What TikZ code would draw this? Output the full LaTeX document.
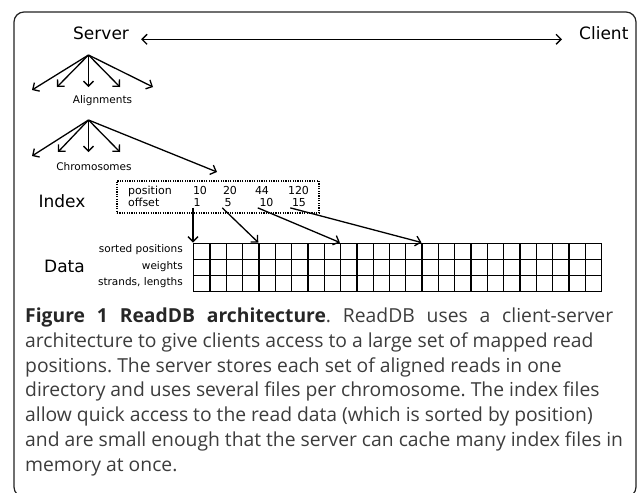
\documentclass[tikz,border=0pt]{standalone}
\usepackage{fontspec}
\setmainfont{Open Sans}
\newfontfamily\diafont{DejaVu Sans}
\usepackage{tikz}
\usetikzlibrary{arrows.meta,positioning}
\definecolor{captxt}{HTML}{3C3C3C}
\definecolor{frame}{HTML}{222222}
\frenchspacing
\tikzset{>={Straight Barb[length=5pt,width=10pt]}}
\tikzset{
  big/.style={inner sep=0pt,font=\diafont\fontsize{17}{20}\selectfont},
  small/.style={inner sep=0pt,font=\diafont\fontsize{10.5}{12}\selectfont},
  idx/.style={inner sep=1.5pt,font=\diafont\fontsize{11}{12}\selectfont,anchor=base},
  cell/.style={draw,line width=1.3pt,minimum width=16.32pt,minimum height=16.2pt,inner sep=0pt,anchor=north west},
  arr/.style={->,line width=1.3pt},
  capline/.style={inner sep=0pt,anchor=base west,text=captxt,font=\fontsize{19.3}{24}\selectfont}
}

\begin{document}
\begin{tikzpicture}[x=1pt,y=-1pt]
\useasboundingbox (0,0) rectangle (638,493);
\clip (0,0) rectangle (638,493);
%Frame
\draw[frame,line width=1.2pt,rounded corners=10pt] (14,12) rectangle (636,497);

%Server and client
\node[big,anchor=base west] (srv) at (73,39.3) {Server};
\node[big,anchor=base west] (cli) at (579,39.3) {Client};
\draw[<->,line width=1.3pt] ([xshift=12pt]srv.base east) -- ([xshift=-17pt]cli.base west);

%Alignments
\coordinate (s0) at (88.5,55);
\coordinate (a1) at (32,90);
\coordinate (a2) at (57,87);
\coordinate (a3) at (88.5,87);
\coordinate (a4) at (120,87);
\coordinate (a5) at (153,87);
\foreach \t in {a1,a2,a3,a4,a5}
  \draw[arr] (s0) -- (\t);
\node[small] (aln) at (102.5,101) {Alignments};

%Chromosomes
\coordinate (c0) at (88.5,120);
\coordinate (b1) at (32,156);
\coordinate (b2) at (58,152);
\coordinate (b3) at (88.5,152);
\coordinate (b4) at (120,152);
\coordinate (b5) at (217,172);
\foreach \t in {b1,b2,b3,b4,b5}
  \draw[arr] (c0) -- (\t);
\node[small] (chr) at (94,167) {Chromosomes};

%Index
\node[big,anchor=base] (index) at (62,207) {Index};
\node[draw,line width=1.1pt,dash pattern=on 1.2pt off 1.2pt,minimum width=202pt,minimum height=32pt,inner sep=0pt] (ibox) at (218,197) {};
\node[idx,anchor=base west,inner sep=0pt] (pos) at (128,194) {position};
\node[idx,anchor=base west,inner sep=0pt] (off) at (128,206) {offset};
\node[idx] (p1) at (200,194) {10};
\node[idx] (p2) at (230,194) {20};
\node[idx] (p3) at (262,194) {44};
\node[idx] (p4) at (298.5,194) {120};
\node[idx] (o1) at (197,206) {1};
\node[idx] (o2) at (228,206) {5};
\node[idx] (o3) at (266.5,206) {10};
\node[idx] (o4) at (299,206) {15};

%Data
\node[big,anchor=base] (data) at (64.5,272) {Data};
\foreach \r in {1,2,3}
  \foreach \c in {0,...,24}
    \node[cell] (c-\r-\c) at (193+16.32*\c,242.5+16.2*\r-16.2) {};
\node[small,anchor=base east] (l1) at (183,252.9) {sorted positions};
\node[small,anchor=base east] (l2) at (183,269.1) {weights};
\node[small,anchor=base east] (l3) at (183,285.3) {strands, lengths};

%Offsets into the data
\draw[arr] (o1.south -| c-1-0.north west) -- (c-1-0.north west);
\draw[arr] ([xshift=-0.5pt]o2.south west) -- (c-1-4.north west);
\draw[arr] (o3.south west) -- (c-1-9.north west);
\draw[arr] (o4.south west) -- (c-1-14.north west);

%Caption
\node[capline] (t1) at (25,322.5) {\makebox[588pt][s]{{\bfseries\color{black!85}Figure 1 ReadDB architecture}. ReadDB uses a client-server}};
\node[capline] (t2) at (25,347.3) {architecture to give clients access to a large set of mapped read};
\node[capline] (t3) at (25,372.1) {positions. The server stores each set of aligned reads in one};
\node[capline] (t4) at (25,396.9) {directory and uses several files per chromosome. The index files};
\node[capline] (t5) at (25,421.7) {allow quick access to the read data (which is sorted by position)};
\node[capline] (t6) at (25,446.5) {and are small enough that the server can cache many index files in};
\node[capline] (t7) at (25,471.3) {memory at once.};
\end{tikzpicture}
\end{document}
